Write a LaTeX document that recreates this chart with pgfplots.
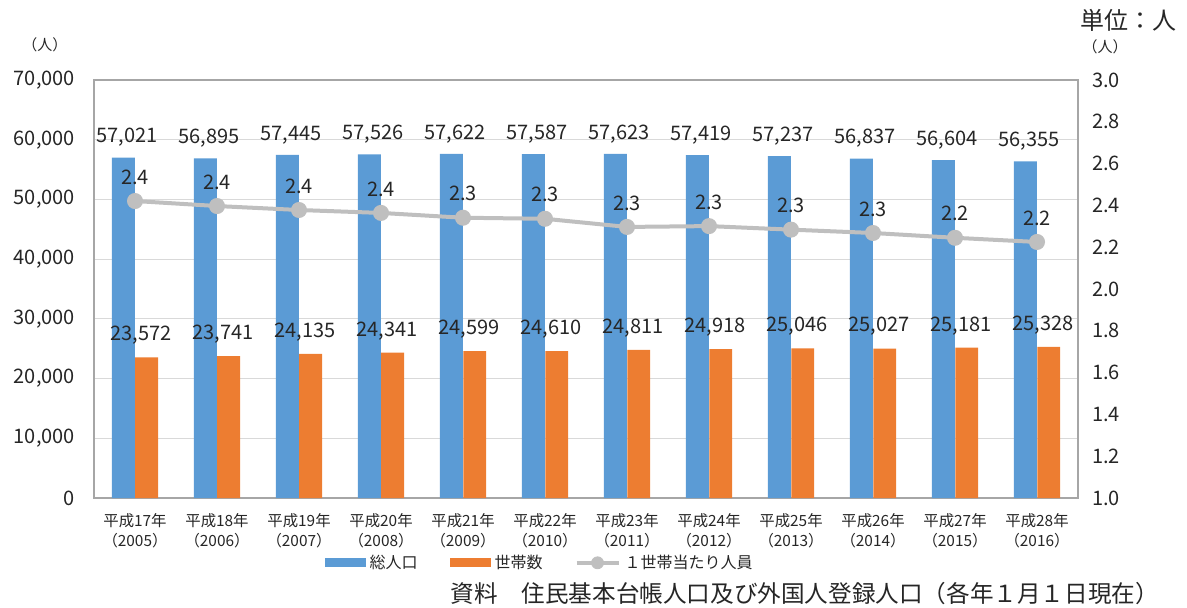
\documentclass[border=0pt]{standalone}
\usepackage{fontspec}
\setmainfont{Noto Sans CJK JP}
\usepackage{pgfplots}
\pgfplotsset{compat=1.18}
\usepackage{pgfplotstable}
\definecolor{cblue}{HTML}{5B9BD5}
\definecolor{corange}{HTML}{ED7D31}
\definecolor{cgray}{HTML}{BFBFBF}
\definecolor{cgrid}{HTML}{D9D9D9}
\definecolor{cframe}{HTML}{A6A6A6}
\definecolor{ctext}{HTML}{262626}

\pgfplotstableread{
x pop hh ratio poplab hhlab ratiolab
0 57021 23572 2.421 57,021 23,572 2.4
1 56895 23741 2.397 56,895 23,741 2.4
2 57445 24135 2.378 57,445 24,135 2.4
3 57526 24341 2.364 57,526 24,341 2.4
4 57622 24599 2.341 57,622 24,599 2.3
5 57587 24610 2.336 57,587 24,610 2.3
6 57623 24811 2.297 57,623 24,811 2.3
7 57419 24918 2.301 57,419 24,918 2.3
8 57237 25046 2.284 57,237 25,046 2.3
9 56837 25027 2.268 56,837 25,027 2.3
10 56604 25181 2.245 56,604 25,181 2.2
11 56355 25328 2.225 56,355 25,328 2.2
}\data

\begin{document}
\begin{tikzpicture}[x=1pt,y=1pt]
\useasboundingbox (-47,-54.5) rectangle (546.5,249);
\begin{axis}[at={(0,0)}, anchor=south west, scale only axis,
  width=492pt, height=209pt,
  xmin=-0.5, xmax=11.5, ymin=0, ymax=70000,
  axis line style={cframe, line width=0.8pt},
  ytick={0,10000,20000,30000,40000,50000,60000,70000},
  ymajorgrids, major grid style={cgrid, line width=0.6pt},
  major tick length=0pt,
  xtick={0,...,11},
  xticklabels={{平成17年\\（2005）},{平成18年\\（2006）},{平成19年\\（2007）},{平成20年\\（2008）},{平成21年\\（2009）},{平成22年\\（2010）},{平成23年\\（2011）},{平成24年\\（2012）},{平成25年\\（2013）},{平成26年\\（2014）},{平成27年\\（2015）},{平成28年\\（2016）}},
  xticklabel style={font=\fontsize{7.7}{10}\selectfont, align=center, text=ctext, yshift=-4pt},
  scaled y ticks=false,
  yticklabel={\pgfmathprintnumber[assume math mode=true, 1000 sep={,}, fixed]{\tick}},
  yticklabel style={font=\fontsize{10}{12}\selectfont, text=ctext, xshift=-6pt},
  clip=false,
]
\addplot[ybar, bar width=0.28, bar shift=-0.143, fill=cblue, draw=none] table[x=x,y=pop]{\data};
\addplot[ybar, bar width=0.28, bar shift=0.143, fill=corange, draw=none] table[x=x,y=hh]{\data};
\addplot[draw=none, mark=none, nodes near coords={\pgfplotspointmeta}, point meta=explicit symbolic,
  every node near coord/.style={anchor=center, yshift=10pt, xshift=-4pt, text=ctext, font=\fontsize{10}{12}\selectfont}]
  table[x=x,y=pop,meta=poplab]{\data};
\addplot[draw=none, mark=none, nodes near coords={\pgfplotspointmeta}, point meta=explicit symbolic,
  every node near coord/.style={anchor=center, yshift=11pt, xshift=3pt, text=ctext, font=\fontsize{10}{12}\selectfont}]
  table[x=x,y=hh,meta=hhlab]{\data};
\end{axis}
\begin{axis}[at={(0,0)}, anchor=south west, scale only axis,
  width=492pt, height=209pt,
  xmin=-0.5, xmax=11.5, ymin=1, ymax=3,
  axis x line=none, axis y line*=right, y axis line style={draw=none},
  ytick={1,1.2,1.4,1.6,1.8,2,2.2,2.4,2.6,2.8,3},
  major tick length=0pt,
  yticklabel style={font=\fontsize{10}{12}\selectfont, text=ctext, xshift=3.5pt,
    /pgf/number format/.cd, fixed, fixed zerofill, precision=1, assume math mode=true},
  clip=false,
  legend style={at={(0.454,-0.155)}, anchor=center, draw=none, fill=none,
    legend columns=3, font=\fontsize{8}{10}\selectfont, text=ctext,
    /tikz/every even column/.append style={column sep=14pt}},
]
\addplot[cgray, line width=2pt, mark=*, mark size=3pt, mark options={fill=cgray, draw=cgray},
  nodes near coords={\pgfplotspointmeta}, point meta=explicit symbolic,
  every node near coord/.style={anchor=center, yshift=12pt, text=ctext, font=\fontsize{10}{12}\selectfont},
  forget plot]
  table[x=x,y=ratio,meta=ratiolab]{\data};
\addlegendimage{legend image code/.code={\fill[cblue] (0pt,-2pt) rectangle (20pt,2pt);}}
\addlegendentry{総人口}
\addlegendimage{legend image code/.code={\fill[corange] (0pt,-2pt) rectangle (20pt,2pt);}}
\addlegendentry{世帯数}
\addlegendimage{legend image code/.code={\draw[cgray, line width=2pt] (0pt,0pt) -- (21pt,0pt); \fill[cgray] (10.5pt,0pt) circle (3pt);}}
\addlegendentry{１世帯当たり人員}
\end{axis}
\node[font=\fontsize{12}{14}\selectfont, text=ctext] at (517,239) {単位：人};
\node[font=\fontsize{7.5}{9}\selectfont, text=ctext] at (-24.5,226.5) {（人）};
\node[font=\fontsize{7.5}{9}\selectfont, text=ctext] at (505.5,225.5) {（人）};
\node[anchor=east, font=\fontsize{11.8}{14}\selectfont, text=ctext] at (536,-48) {資料　住民基本台帳人口及び外国人登録人口（各年１月１日現在）};
\end{tikzpicture}
\end{document}
